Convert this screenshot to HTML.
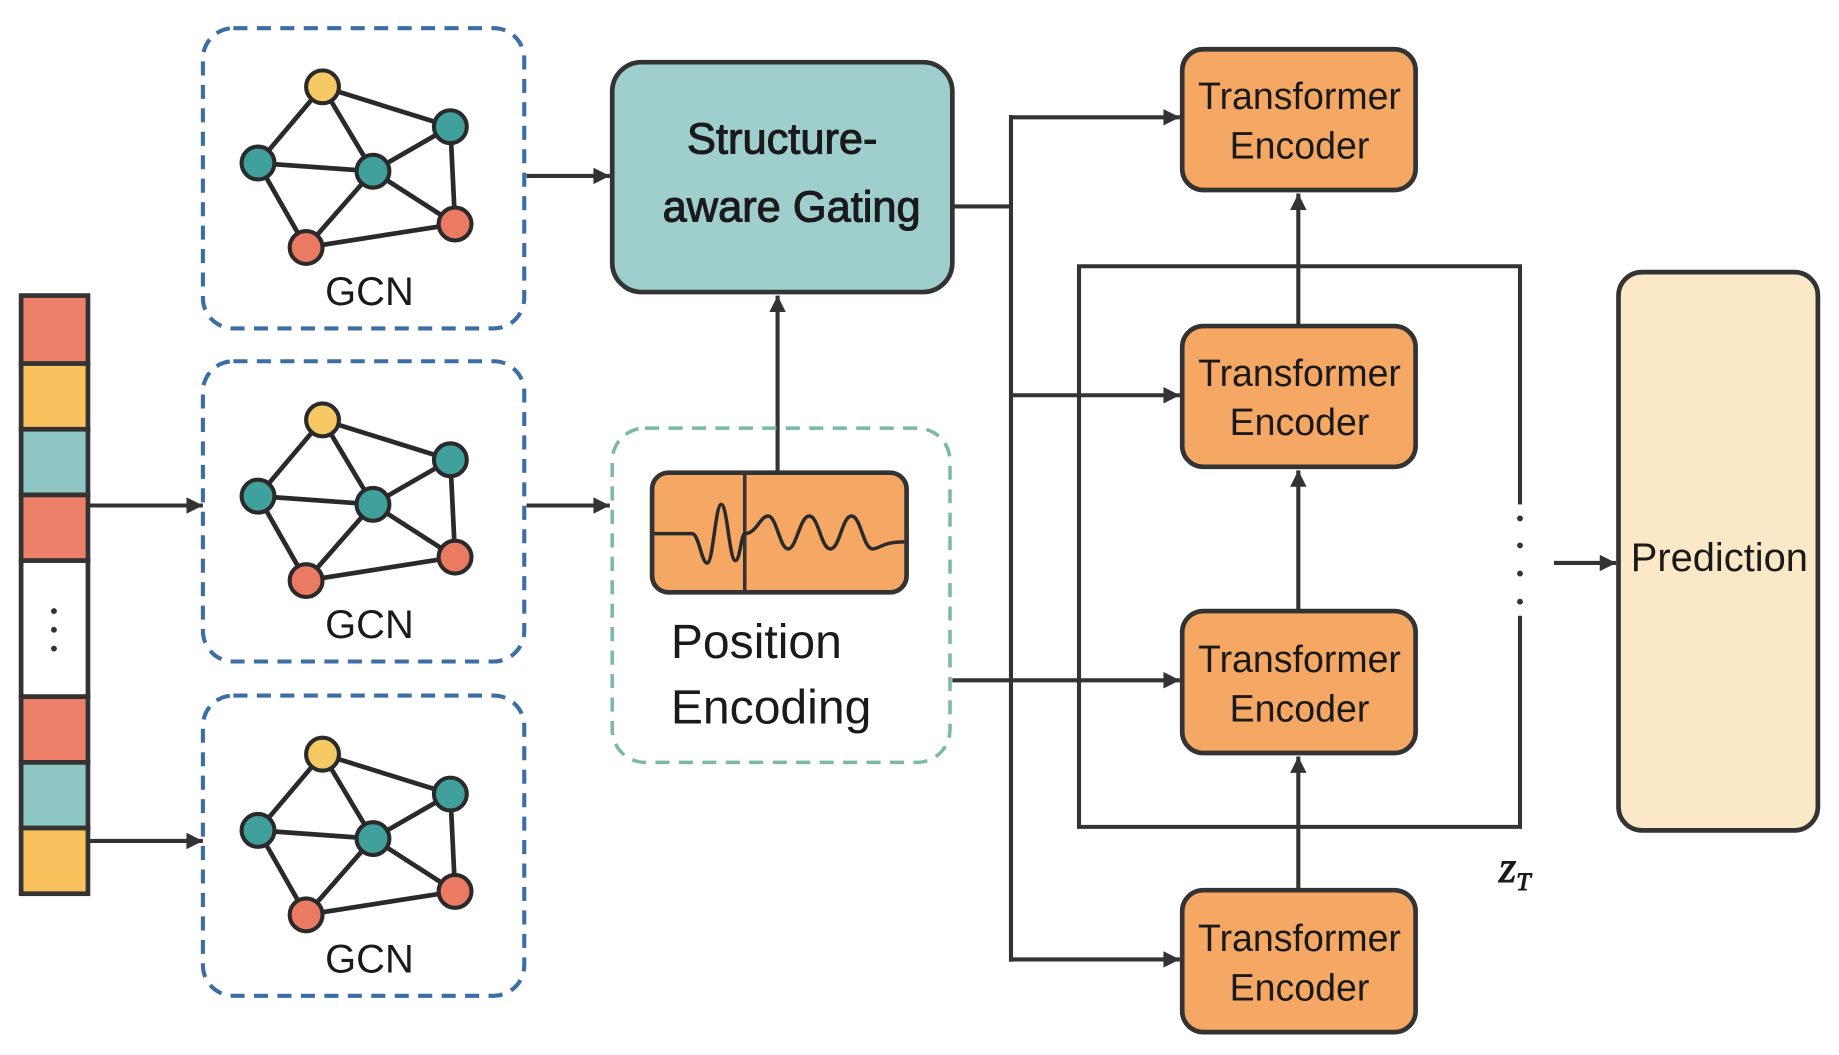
<!DOCTYPE html>
<html><head><meta charset="utf-8"><style>
html,body{margin:0;padding:0;background:#fff;}
svg{display:block;}
text{font-family:"Liberation Sans",sans-serif;fill:#1a1a1a;}
</style></head><body>
<svg width="1839" height="1055" viewBox="0 0 1568 899.5" preserveAspectRatio="none" xmlns="http://www.w3.org/2000/svg">
<defs>
<marker id="a" viewBox="0 0 10 10" refX="10" refY="5" markerWidth="20" markerHeight="14" markerUnits="userSpaceOnUse" orient="auto"><path d="M0,0 L10,5 L0,10 z" fill="#333"/></marker>
<g id="graph">
<g stroke="#2a2a2a" stroke-width="4" fill="none">
<line x1="275" y1="74" x2="220" y2="139"/><line x1="275" y1="74" x2="318" y2="146"/><line x1="275" y1="74" x2="384" y2="108"/>
<line x1="220" y1="139" x2="318" y2="146"/><line x1="220" y1="139" x2="261" y2="211"/><line x1="318" y1="146" x2="261" y2="211"/>
<line x1="318" y1="146" x2="384" y2="108"/><line x1="318" y1="146" x2="388" y2="191"/><line x1="384" y1="108" x2="388" y2="191"/>
<line x1="261" y1="211" x2="388" y2="191"/>
</g>
<g stroke="#2a2a2a" stroke-width="3.5">
<circle cx="275" cy="74" r="14" fill="#f7c965"/><circle cx="384" cy="108" r="14" fill="#3fa09c"/>
<circle cx="220" cy="139" r="14" fill="#3fa09c"/><circle cx="318" cy="146" r="14" fill="#3fa09c"/>
<circle cx="388" cy="191" r="14" fill="#ea7a62"/><circle cx="261" cy="211" r="14" fill="#ea7a62"/>
</g>
<text x="315" y="260" font-size="34" text-anchor="middle">GCN</text>
<rect x="173" y="24" width="274" height="256" rx="26" fill="none" stroke="#3a6ea5" stroke-width="3.5" stroke-dasharray="12,8"/>
</g>
</defs>
<g stroke="#333" stroke-width="4">
<rect x="18" y="252" width="57" height="58" fill="#ec8068"/>
<rect x="18" y="310" width="57" height="56" fill="#f9c25e"/>
<rect x="18" y="366" width="57" height="56" fill="#8ec6c4"/>
<rect x="18" y="422" width="57" height="56" fill="#ec8068"/>
<rect x="18" y="478" width="57" height="116" fill="#fff"/>
<rect x="18" y="594" width="57" height="56" fill="#ec8068"/>
<rect x="18" y="650" width="57" height="56" fill="#8ec6c4"/>
<rect x="18" y="706" width="57" height="56" fill="#f9c25e"/>
</g>
<g fill="#333"><circle cx="46" cy="521" r="2.5"/><circle cx="46" cy="537" r="2.5"/><circle cx="46" cy="553" r="2.5"/></g>
<use href="#graph"/>
<use href="#graph" transform="translate(0,284)"/>
<use href="#graph" transform="translate(0,569)"/>
<g stroke="#333" stroke-width="3.5" fill="none" marker-end="url(#a)">
<line x1="75" y1="431" x2="173" y2="431"/>
<line x1="75" y1="717" x2="173" y2="717"/>
<line x1="449" y1="150" x2="520" y2="150"/>
<line x1="449" y1="431" x2="520" y2="431"/>
<line x1="663" y1="403" x2="663" y2="252"/>
<line x1="862" y1="100" x2="1006" y2="100"/>
<line x1="862" y1="337" x2="1006" y2="337"/>
<line x1="862" y1="818" x2="1006" y2="818"/>
<line x1="812" y1="580" x2="1006" y2="580"/>
<line x1="1107" y1="759" x2="1107" y2="645"/>
<line x1="1107" y1="521" x2="1107" y2="401"/>
<line x1="1107" y1="278" x2="1107" y2="165"/>
<line x1="1325" y1="480" x2="1378" y2="480"/>
</g>
<g stroke="#333" stroke-width="3.5" fill="none">
<polyline points="812,176 862,176"/>
<line x1="862" y1="98" x2="862" y2="820"/>
<polyline points="1296,430 1296,227 920,227 920,705 1296,705 1296,525"/>
</g>
<g fill="#333"><circle cx="1296" cy="442" r="2.5"/><circle cx="1296" cy="465" r="2.5"/><circle cx="1296" cy="489" r="2.5"/><circle cx="1296" cy="513" r="2.5"/></g>
<rect x="522" y="53" width="290" height="196" rx="25" fill="#9fcfcd" stroke="#333" stroke-width="4"/>
<text x="667" y="131" font-size="37" text-anchor="middle" stroke="#1a1a1a" stroke-width="0.9">Structure-</text>
<text x="675" y="189" font-size="37" text-anchor="middle" stroke="#1a1a1a" stroke-width="0.9">aware Gating</text>
<rect x="522" y="365" width="288" height="285" rx="28" fill="none" stroke="#7ab8a8" stroke-width="3" stroke-dasharray="12,8"/>
<rect x="556" y="403" width="217" height="102" rx="14" fill="#f5a863" stroke="#333" stroke-width="4"/>
<line x1="635" y1="403" x2="635" y2="505" stroke="#333" stroke-width="3"/>
<path d="M558,455 L590,455 C596,455 598,480 603,480 C608,480 610,430 615,430 C620,430 622,478 627,478 C631,478 632,455 635,455 C645,455 648,440 655,440 C662,440 665,468 672,468 C679,468 682,440 690,440 C698,440 700,468 708,468 C716,468 718,440 726,440 C734,440 736,468 744,468 C750,468 752,462 771,462" fill="none" stroke="#2a2a2a" stroke-width="3"/>
<text x="572" y="561" font-size="41">Position</text>
<text x="572" y="617" font-size="41">Encoding</text>
<g stroke="#333" stroke-width="4" fill="#f5a863">
<rect x="1008" y="42" width="199" height="120" rx="18"/>
<rect x="1008" y="278" width="199" height="120" rx="18"/>
<rect x="1008" y="521" width="199" height="121" rx="18"/>
<rect x="1008" y="759" width="199" height="121" rx="18"/>
</g>
<g font-size="32" text-anchor="middle">
<text x="1108" y="93">Transformer</text><text x="1108" y="135">Encoder</text>
<text x="1108" y="329">Transformer</text><text x="1108" y="371">Encoder</text>
<text x="1108" y="573">Transformer</text><text x="1108" y="615">Encoder</text>
<text x="1108" y="811">Transformer</text><text x="1108" y="853">Encoder</text>
</g>
<text x="1278" y="752" font-size="38" font-style="italic" style="font-family:'Liberation Serif',serif" stroke="#1a1a1a" stroke-width="0.8">z<tspan font-size="22" dy="7">T</tspan></text>
<rect x="1380" y="232" width="170" height="476" rx="20" fill="#fbe8c6" stroke="#333" stroke-width="4"/>
<text x="1466" y="487" font-size="34" text-anchor="middle">Prediction</text>
</svg>
</body></html>
